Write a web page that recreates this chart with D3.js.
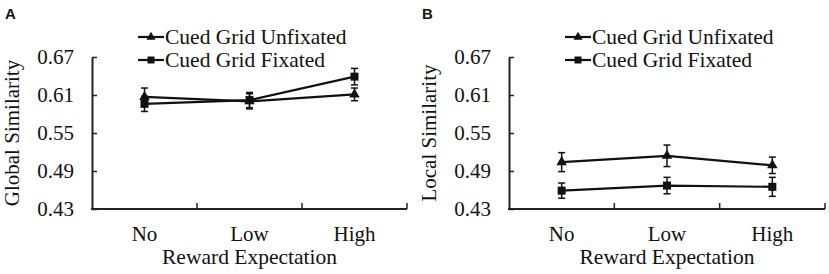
<!DOCTYPE html>
<html>
<head>
<meta charset="utf-8">
<script src="https://cdn.jsdelivr.net/npm/d3@7"></script>
<style>
  body { margin: 0; background: #fff; }
  svg { display: block; }
</style>
</head>
<body>
<div id="chart"></div>
<script>
// 数据
const categories = ["No", "Low", "High"];
const yTicks = [0.43, 0.49, 0.55, 0.61, 0.67];
const seriesNames = ["Cued Grid Unfixated", "Cued Grid Fixated"];

// A: global similarity
const globalUnfixated = [0.607, 0.600, 0.611];
const globalUnfixatedErr = [0.014, 0.012, 0.010];
const globalFixated = [0.596, 0.602, 0.639];
const globalFixatedErr = [0.012, 0.012, 0.013];

// B: local similarity
const localUnfixated = [0.504, 0.514, 0.499];
const localUnfixatedErr = [0.015, 0.017, 0.013];
const localFixated = [0.459, 0.467, 0.465];
const localFixatedErr = [0.012, 0.013, 0.015];

const SERIF = "Liberation Serif";
const W = 829, H = 274;
const svg = d3.select("#chart").append("svg")
  .attr("width", W)
  .attr("height", H);

function drawPanel(opt) {
  const { left, right, top, bottom, letter, yTitle, series } = opt;
  const g = svg.append("g");

  const x = d3.scaleBand().domain(categories).range([left, right]);
  const y = d3.scaleLinear().domain([0.43, 0.67]).range([bottom, top]);

  // 面板字母
  g.append("text")
    .attr("x", left - 87)
    .attr("y", 19)
    .attr("font-family", "Liberation Sans")
    .attr("font-weight", "bold")
    .attr("font-size", 15)
    .attr("fill", "#111")
    .text(letter);

  // y 轴
  const yAxis = g.append("g")
    .attr("transform", `translate(${left},0)`)
    .call(d3.axisLeft(y).tickValues(yTicks).tickFormat(d3.format(".2f"))
      .tickSizeInner(-5).tickSizeOuter(0).tickPadding(18));
  yAxis.attr("font-family", SERIF).attr("font-size", 21);
  yAxis.select(".domain").attr("stroke", "#222").attr("stroke-width", 2);
  yAxis.selectAll(".tick line").attr("stroke", "#222").attr("stroke-width", 1.5);
  yAxis.selectAll(".tick text").attr("fill", "#111");

  // x 轴
  g.append("line")
    .attr("x1", left - 1).attr("x2", right)
    .attr("y1", bottom).attr("y2", bottom)
    .attr("stroke", "#222").attr("stroke-width", 2);
  g.selectAll(".xtick")
    .data(categories)
    .join("line")
    .attr("class", "xtick")
    .attr("x1", d => x(d) + x.bandwidth())
    .attr("x2", d => x(d) + x.bandwidth())
    .attr("y1", bottom).attr("y2", bottom - 6)
    .attr("stroke", "#222").attr("stroke-width", 1.5);
  g.selectAll(".xlabel")
    .data(categories)
    .join("text")
    .attr("class", "xlabel")
    .attr("x", d => x(d) + x.bandwidth() / 2)
    .attr("y", 241)
    .attr("text-anchor", "middle")
    .attr("font-family", SERIF)
    .attr("font-size", 21)
    .attr("fill", "#111")
    .text(d => d);

  g.append("text")
    .attr("x", (left + right) / 2)
    .attr("y", 264)
    .attr("text-anchor", "middle")
    .attr("font-family", SERIF)
    .attr("font-size", 21.5)
    .attr("fill", "#111")
    .text("Reward Expectation");

  g.append("text")
    .attr("transform", `translate(${left - 73},${(top + bottom) / 2}) rotate(-90)`)
    .attr("text-anchor", "middle")
    .attr("font-family", SERIF)
    .attr("font-size", 21)
    .attr("fill", "#111")
    .text(yTitle);

  const cx = d => x(d) + x.bandwidth() / 2;
  const line = d3.line().x((d, i) => cx(categories[i])).y(d => y(d));

  series.forEach(s => {
    // 误差线
    s.values.forEach((v, i) => {
      const px = cx(categories[i]);
      const e = s.errs[i];
      g.append("line")
        .attr("x1", px).attr("x2", px)
        .attr("y1", y(v - e)).attr("y2", y(v + e))
        .attr("stroke", "#111").attr("stroke-width", 1.5);
      [v - e, v + e].forEach(c => {
        g.append("line")
          .attr("x1", px - 3.5).attr("x2", px + 3.5)
          .attr("y1", y(c)).attr("y2", y(c))
          .attr("stroke", "#111").attr("stroke-width", 1.5);
      });
    });

    g.append("path")
      .datum(s.values)
      .attr("d", line)
      .attr("fill", "none")
      .attr("stroke", "#111")
      .attr("stroke-width", 2.2);

    g.selectAll(null)
      .data(s.values)
      .join("path")
      .attr("transform", (d, i) => `translate(${cx(categories[i])},${y(d)})`)
      .attr("d", d3.symbol().type(s.shape).size(s.shape === d3.symbolSquare ? 64 : 48))
      .attr("fill", "#111");
  });

  // 图例
  series.forEach((s, i) => {
    const ly = 37 + i * 23;
    const lx = left + opt.legendOffset;
    g.append("line")
      .attr("x1", lx).attr("x2", lx + 26)
      .attr("y1", ly).attr("y2", ly)
      .attr("stroke", "#111").attr("stroke-width", 2.2);
    g.append("path")
      .attr("transform", `translate(${lx + 13},${ly})`)
      .attr("d", d3.symbol().type(s.shape).size(s.shape === d3.symbolSquare ? 49 : 36))
      .attr("fill", "#111");
    g.append("text")
      .attr("x", lx + 27)
      .attr("y", ly + 7)
      .attr("font-family", SERIF)
      .attr("font-size", 21.5)
      .attr("fill", "#111")
      .text(s.name);
  });
}

drawPanel({
  left: 92, right: 407, top: 57, bottom: 209,
  letter: "A", yTitle: "Global Similarity", legendOffset: 46,
  series: [
    { name: seriesNames[0], values: globalUnfixated, errs: globalUnfixatedErr, shape: d3.symbolTriangle },
    { name: seriesNames[1], values: globalFixated, errs: globalFixatedErr, shape: d3.symbolSquare }
  ]
});

drawPanel({
  left: 509, right: 825, top: 57, bottom: 209,
  letter: "B", yTitle: "Local Similarity", legendOffset: 56,
  series: [
    { name: seriesNames[0], values: localUnfixated, errs: localUnfixatedErr, shape: d3.symbolTriangle },
    { name: seriesNames[1], values: localFixated, errs: localFixatedErr, shape: d3.symbolSquare }
  ]
});
</script>
</body>
</html>
